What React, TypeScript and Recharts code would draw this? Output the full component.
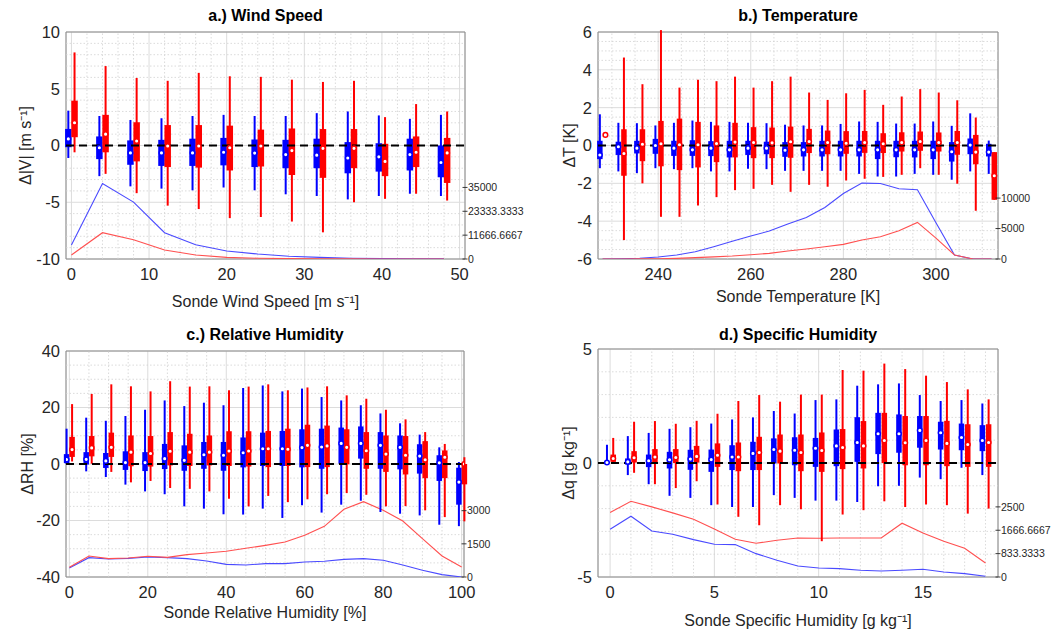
import React from 'react';
import {
  ComposedChart,
  Scatter,
  Line,
  XAxis,
  YAxis,
  CartesianGrid,
  ReferenceLine,
  ReferenceArea,
  ErrorBar,
  Label,
} from 'recharts';

const FONT = '"Liberation Sans", Arial, Helvetica, sans-serif';
const BLUE = '#0000ff';
const RED = '#ff0000';
const TXT = '#262626';

// boxes are [whisker low, q1, median, q3, whisker high]

// a.) Wind Speed
const windBins = [0, 4, 8, 12, 16, 20, 24, 28, 32, 36, 40, 44, 48];
const windBlue = [
  [-1.1, -0.15, 0.58, 1.46, 3.07],
  [-2.7, -1.2, -0.2, 0.8, 2.6],
  [-3.6, -1.7, -0.65, 0.45, 2.25],
  [-3.8, -1.8, -0.65, 0.5, 2.4],
  [-3.95, -1.8, -0.65, 0.6, 2.6],
  [-3.7, -1.75, -0.6, 0.67, 2.7],
  [-3.95, -1.9, -0.67, 0.53, 2.6],
  [-4.3, -2.0, -0.8, 0.5, 2.6],
  [-4.45, -2.0, -0.85, 0.6, 2.85],
  [-4.75, -2.45, -1.1, 0.3, 3.0],
  [-4.45, -2.3, -1.0, 0.2, 2.65],
  [-4.25, -2.2, -0.8, 0.6, 2.35],
  [-4.45, -2.8, -1.5, 0.0, 2.7],
];
const windRed = [
  [-0.6, 0.73, 2.0, 3.95, 8.2],
  [-2.5, -0.6, 1.0, 2.7, 7.0],
  [-4.2, -1.4, 0.4, 2.05, 5.95],
  [-5.3, -1.9, -0.05, 1.8, 5.7],
  [-5.6, -1.95, -0.05, 1.8, 6.4],
  [-6.4, -2.2, -0.2, 1.75, 6.1],
  [-6.3, -1.85, -0.05, 1.4, 6.05],
  [-6.7, -2.6, -0.45, 1.5, 5.8],
  [-7.65, -2.85, -0.25, 1.45, 5.6],
  [-5.0, -2.0, -0.25, 1.45, 5.7],
  [-4.7, -2.7, -1.4, 0.15, 2.5],
  [-4.25, -1.9, -0.6, 0.8, 3.65],
  [-4.85, -3.3, -0.65, 0.67, 3.0],
];
const windCountBlue = [6840, 36950, 27840, 12860, 7000, 3900, 2440, 1380, 810, 400, 190, 90, 40];
const windCountRed = [1950, 12860, 9440, 4430, 1950, 810, 350, 200, 100, 60, 30, 20, 10];
const windXTicks = [0, 10, 20, 30, 40, 50];
const windYTicks = [-10, -5, 0, 5, 10];
const windCountTicks = [0, 11666.6667, 23333.3333, 35000];
const windMinorX = [2, 4, 6, 8, 12, 14, 16, 18, 22, 24, 26, 28, 32, 34, 36, 38, 42, 44, 46, 48];
const windMinorY = [-9, -8, -7, -6, -4, -3, -2, -1, 1, 2, 3, 4, 6, 7, 8, 9];

// b.) Temperature
const tempBins = [228, 232, 236, 240, 244, 248, 252, 256, 260, 264, 268, 272, 276, 280, 284, 288, 292, 296, 300, 304, 308, 312];
const tempBlue = [
  [-1.2, -0.72, -0.5, 0.25, 1.65],
  [-1.37, -0.5, -0.07, 0.2, 1.2],
  [-1.46, -0.42, -0.14, 0.25, 1.18],
  [-1.2, -0.44, 0, 0.35, 1.06],
  [-1.25, -0.55, -0.14, 0.25, 1.2],
  [-1.2, -0.55, -0.23, 0.28, 1.32],
  [-1.37, -0.56, -0.14, 0.23, 1.25],
  [-1.37, -0.63, -0.23, 0.25, 1.25],
  [-1.23, -0.5, -0.14, 0.25, 1.2],
  [-1.25, -0.46, -0.14, 0.2, 1.18],
  [-1.34, -0.6, -0.25, 0.18, 1.1],
  [-1.34, -0.58, -0.23, 0.18, 1.06],
  [-1.34, -0.58, -0.23, 0.25, 1.06],
  [-1.34, -0.58, -0.23, 0.25, 1.14],
  [-1.5, -0.58, -0.23, 0.25, 1.27],
  [-1.64, -0.72, -0.23, 0.25, 1.25],
  [-1.64, -0.62, -0.23, 0.25, 1.16],
  [-1.5, -0.63, -0.23, 0.25, 1.16],
  [-1.55, -0.72, -0.23, 0.25, 1.27],
  [-1.81, -0.85, -0.33, 0.18, 1.04],
  [-1.37, -0.46, 0.02, 0.37, 1.7],
  [-1.5, -0.58, -0.35, 0.09, 0.26],
];
const tempRed = [
  [0.56, 0.56, 0.56, 0.56, 0.56],
  [-5.0, -1.6, -0.42, 0.86, 4.65],
  [-2.0, -0.83, 0.07, 0.86, 3.24],
  [-3.77, -1.1, 0.09, 1.3, 6.1],
  [-3.77, -1.3, 0.04, 1.42, 3.06],
  [-3.17, -1.16, 0.04, 1.25, 3.47],
  [-2.73, -0.88, 0.1, 1.06, 3.4],
  [-2.36, -0.63, 0.18, 1.2, 3.64],
  [-2.29, -0.67, 0.16, 0.97, 3.06],
  [-2.08, -0.67, 0.14, 0.95, 3.4],
  [-2.45, -0.65, 0.2, 1.0, 3.64],
  [-2.08, -0.4, 0.21, 0.88, 2.8],
  [-2.18, -0.46, 0.16, 0.79, 2.41],
  [-1.85, -0.44, 0.12, 0.76, 2.76],
  [-1.76, -0.39, 0.16, 0.77, 2.94],
  [-1.66, -0.4, 0.09, 0.65, 2.15],
  [-1.55, -0.32, 0.16, 0.7, 2.59],
  [-1.2, -0.28, 0.21, 0.74, 2.98],
  [-1.55, -0.32, 0.16, 0.69, 2.8],
  [-2.02, -0.49, 0.16, 0.77, 2.39],
  [-3.45, -0.99, -0.35, 0.56, 1.48],
  [-2.87, -2.87, -1.6, -0.35, -0.35],
];
const tempCountBlue = [0, 50, 120, 330, 650, 1200, 2020, 2900, 3770, 4590, 5740, 6830, 8470, 10760, 12460, 12400, 11530, 11370, 5960, 650, 0, 0];
const tempCountRed = [0, 0, 20, 40, 100, 220, 350, 490, 710, 930, 1310, 1640, 2020, 2400, 3110, 3660, 4640, 6010, 3440, 660, 0, 0];
const tempXTicks = [240, 260, 280, 300];
const tempYTicks = [-6, -4, -2, 0, 2, 4, 6];
const tempCountTicks = [0, 5000, 10000];
const tempMinorX = [230, 235, 245, 250, 255, 265, 270, 275, 285, 290, 295, 305, 310];
const tempMinorY = [-5.5, -5, -4.5, -3.5, -3, -2.5, -1.5, -1, -0.5, 0.5, 1, 1.5, 2.5, 3, 3.5, 4.5, 5, 5.5];

// c.) Relative Humidity
const rhBins = [0, 5, 10, 15, 20, 25, 30, 35, 40, 45, 50, 55, 60, 65, 70, 75, 80, 85, 90, 95, 100];
const rhBlue = [
  [0, 0.3, 1.6, 3.5, 12.5],
  [-2.6, -0.2, 1.65, 4.2, 16.4],
  [-4.6, -1.4, 1.1, 3.9, 15.3],
  [-7.3, -2.1, 0.5, 4.5, 17.0],
  [-9.7, -2.5, 0.5, 4.2, 19.2],
  [-10.7, -1.8, 1.9, 7.1, 22.5],
  [-15.0, -2.4, 1.3, 6.6, 20.5],
  [-15.8, -1.7, 3.3, 7.8, 21.7],
  [-17.8, -2.4, 3.1, 7.8, 20.8],
  [-17.9, -1.2, 4.0, 9.4, 26.9],
  [-15.8, -0.7, 5.4, 11.1, 27.8],
  [-19.1, -0.7, 5.4, 11.7, 25.7],
  [-14.6, -1.2, 5.8, 12.3, 26.7],
  [-17.2, -1.7, 6.0, 12.5, 23.7],
  [-14.4, 0.1, 7.3, 12.9, 22.5],
  [-13.0, 1.9, 7.3, 13.3, 20.8],
  [-17.0, -1.7, 6.6, 11.3, 17.9],
  [-17.6, -1.9, 5.9, 10.1, 14.4],
  [-18.2, -3.4, 2.8, 7.0, 10.4],
  [-21.5, -6.0, 0.4, 3.1, 5.9],
  [-22.0, -14.4, -6.4, -1.3, 0.7],
];
const rhRed = [
  [0.9, 2.5, 5.1, 9.6, 21.2],
  [0.1, 2.7, 5.7, 9.9, 24.8],
  [-2.8, 2.5, 5.9, 11.1, 28.2],
  [-6.5, -0.8, 4.2, 10.1, 27.5],
  [-6.0, -0.9, 3.7, 9.9, 25.7],
  [-8.5, -0.5, 4.5, 11.3, 29.3],
  [-8.8, -0.7, 4.2, 10.7, 27.4],
  [-9.7, -0.5, 4.2, 10.1, 27.5],
  [-12.3, -0.7, 4.6, 11.6, 26.1],
  [-15.0, -0.9, 4.6, 11.6, 27.4],
  [-11.3, -1.1, 5.4, 11.7, 28.2],
  [-13.5, -0.7, 5.2, 12.5, 26.1],
  [-12.5, -1.1, 6.6, 13.9, 27.1],
  [-10.7, -1.1, 6.4, 13.6, 27.5],
  [-10.3, -0.1, 5.9, 12.3, 24.3],
  [-10.9, -1.7, 4.7, 11.3, 23.1],
  [-15.0, -2.8, 3.5, 10.1, 19.2],
  [-14.9, -3.7, 3.1, 9.9, 15.8],
  [-16.4, -5.0, 1.5, 8.1, 11.3],
  [-18.8, -5.0, 2.4, 4.8, 7.1],
  [-20.3, -7.2, 0, 0, 2.4],
];
const rhCountBlue = [407, 874, 814, 844, 905, 874, 829, 724, 573, 543, 603, 603, 678, 709, 799, 829, 754, 543, 302, 106, 0];
const rhCountRed = [437, 950, 829, 859, 935, 889, 1010, 1085, 1161, 1297, 1432, 1583, 1884, 2291, 3060, 3407, 3015, 2533, 1734, 950, 452];
const rhXTicks = [0, 20, 40, 60, 80, 100];
const rhYTicks = [-40, -20, 0, 20, 40];
const rhCountTicks = [0, 1500, 3000];
const rhMinorX = [5, 10, 15, 25, 30, 35, 45, 50, 55, 65, 70, 75, 85, 90, 95];
const rhMinorY = [-35, -30, -25, -15, -10, -5, 5, 10, 15, 25, 30, 35];

// d.) Specific Humidity
const qBins = [0, 1, 2, 3, 4, 5, 6, 7, 8, 9, 10, 11, 12, 13, 14, 15, 16, 17, 18];
const qBlue = [
  [0, 0, 0.02, 0.05, 0.8],
  [-0.53, -0.07, 0.05, 0.2, 1.18],
  [-0.93, -0.18, 0.1, 0.37, 1.32],
  [-1.44, -0.24, 0.14, 0.49, 1.5],
  [-1.53, -0.3, 0.17, 0.58, 1.57],
  [-1.85, -0.39, 0.15, 0.59, 1.73],
  [-1.93, -0.31, 0.26, 0.78, 1.91],
  [-1.93, -0.31, 0.42, 0.93, 2.0],
  [-1.41, -0.02, 0.59, 1.08, 2.28],
  [-1.53, -0.1, 0.56, 1.13, 2.17],
  [-1.65, -0.17, 0.65, 1.1, 2.76],
  [-1.65, -0.14, 0.75, 1.47, 2.79],
  [-1.71, 0.05, 0.9, 2.01, 3.39],
  [-1.02, 0.39, 1.28, 2.2, 3.45],
  [-1.0, 0.45, 1.28, 2.13, 3.49],
  [-0.64, 0.67, 1.43, 2.06, 2.98],
  [-0.71, 0.59, 1.33, 1.81, 2.72],
  [-0.21, 0.56, 1.12, 1.73, 2.76],
  [-0.53, 0.52, 0.99, 1.66, 2.61],
];
const qRed = [
  [0.02, 0.05, 0.2, 0.37, 1.1],
  [-0.43, 0.02, 0.23, 0.52, 1.81],
  [-0.93, 0.02, 0.26, 0.61, 1.84],
  [-1.1, 0, 0.24, 0.61, 1.72],
  [-0.8, 0.02, 0.29, 0.75, 1.85],
  [-1.82, -0.17, 0.34, 0.86, 2.16],
  [-2.36, -0.36, 0.26, 0.9, 2.72],
  [-2.73, -0.31, 0.46, 1.15, 2.98],
  [-1.85, -0.02, 0.52, 1.25, 2.69],
  [-2.03, -0.36, 0.46, 1.25, 3.0],
  [-3.43, -0.39, 0.55, 1.34, 3.0],
  [-2.26, -0.27, 0.68, 1.49, 4.08],
  [-2.07, -0.24, 0.75, 1.84, 4.05],
  [-1.68, 0, 0.99, 2.2, 4.36],
  [-1.93, -0.1, 0.89, 2.06, 4.12],
  [-1.82, -0.1, 0.99, 2.06, 3.83],
  [-1.85, -0.14, 0.86, 1.85, 3.55],
  [-2.22, -0.17, 0.81, 1.7, 3.23],
  [-2.0, -0.17, 0.9, 1.7, 2.79],
];
const qCountBlue = [1702, 2167, 1643, 1524, 1333, 1167, 1155, 833, 595, 393, 321, 298, 238, 214, 238, 274, 179, 119, 24];
const qCountRed = [2298, 2702, 2500, 2286, 2060, 1714, 1345, 1202, 1310, 1393, 1381, 1393, 1393, 1393, 1917, 1571, 1274, 1024, 500];
const qXTicks = [0, 5, 10, 15];
const qYTicks = [-5, 0, 5];
const qCountTicks = [0, 833.3333, 1666.6667, 2500];
const qMinorX = [1, 2, 3, 4, 6, 7, 8, 9, 11, 12, 13, 14, 16, 17, 18];
const qMinorY = [-4, -3, -2, -1, 1, 2, 3, 4];

function boxPoints(bins: number[], boxes: number[][], shift: number) {
  return bins.map((b, i) => {
    const [lo, q1, med, q3, hi] = boxes[i];
    return { x: b + shift, med, whisker: [med - lo, hi - med], box: [med - q1, q3 - med] };
  });
}

function countPoints(bins: number[], counts: number[]) {
  return bins.map((b, i) => ({ x: b, n: counts[i] }));
}

function CountTick(props: any) {
  const { x, y, payload } = props;
  return (
    <g>
      <line x1={x - 2.5} x2={x + 2.5} y1={y} y2={y} stroke={TXT} strokeWidth={0.9} />
      <text x={x + 3} y={y} dy="0.35em" fontSize={10.5} fill={TXT} fontFamily={FONT}>
        {String(payload.value)}
      </text>
    </g>
  );
}

const medianShape = (color: string) => (p: any) =>
  <circle cx={p.cx} cy={p.cy} r={2.3} fill="#fff" stroke={color} strokeWidth={1.5} />;

interface PanelProps {
  title: string;
  xLabel: string;
  yLabel: string;
  bins: number[];
  blue: number[][];
  red: number[][];
  countBlue: number[];
  countRed: number[];
  xDomain: [number, number];
  yDomain: [number, number];
  countDomain: [number, number];
  xTicks: number[];
  yTicks: number[];
  countTicks: number[];
  minorX: number[];
  minorY: number[];
  shift: number;
  boxWidth: number;
  left: number;
  top: number;
  height: number;
  margin: { top: number; right: number; bottom: number; left: number };
  leftWidth: number;
  rightWidth: number;
  yLabelOffset: number;
  xLabelOffset: number;
  titleTop: number;
}

function Panel(p: PanelProps) {
  const blue = boxPoints(p.bins, p.blue, -p.shift);
  const red = boxPoints(p.bins, p.red, p.shift);
  const cBlue = countPoints(p.bins, p.countBlue);
  const cRed = countPoints(p.bins, p.countRed);
  const plotLeft = p.margin.left + p.leftWidth;
  const plotWidth = 528 - p.margin.right - p.rightWidth - plotLeft;
  const tickStyle = { fontSize: 16.5, fill: TXT, fontFamily: FONT };

  return (
    <div style={{ position: 'absolute', left: p.left, top: p.top, width: 528, height: p.height }}>
      <div
        style={{
          position: 'absolute',
          left: plotLeft,
          width: plotWidth,
          top: p.titleTop,
          height: 18,
          lineHeight: '18px',
          textAlign: 'center',
          fontWeight: 'bold',
          fontSize: 16,
          fontFamily: FONT,
          color: '#000',
        }}
      >
        {p.title}
      </div>
      <ComposedChart width={528} height={p.height} margin={p.margin}>
        <CartesianGrid yAxisId="left" stroke="#dcdcdc" strokeWidth={1} />
        {p.minorX.map((v) => (
          <ReferenceLine key={'mx' + v} x={v} yAxisId="left" stroke="#d2d2d2" strokeDasharray="1.5 2" strokeWidth={0.8} />
        ))}
        {p.minorY.map((v) => (
          <ReferenceLine key={'my' + v} y={v} yAxisId="left" stroke="#d2d2d2" strokeDasharray="1.5 2" strokeWidth={0.8} />
        ))}
        <XAxis
          type="number"
          dataKey="x"
          domain={p.xDomain}
          ticks={p.xTicks}
          interval={0}
          allowDataOverflow
          axisLine={false}
          tickLine={false}
          tickSize={0}
          tickMargin={9}
          height={50}
          tick={tickStyle}
        >
          <Label
            value={p.xLabel}
            position="insideBottom"
            offset={p.xLabelOffset}
            fontSize={16}
            fill={TXT}
            fontFamily={FONT}
          />
        </XAxis>
        <YAxis
          yAxisId="left"
          type="number"
          domain={p.yDomain}
          ticks={p.yTicks}
          interval={0}
          allowDataOverflow
          axisLine={false}
          tickLine={false}
          tickSize={0}
          tickMargin={6}
          width={p.leftWidth}
          tick={tickStyle}
        >
          <Label
            value={p.yLabel}
            angle={-90}
            position="insideLeft"
            offset={p.yLabelOffset}
            fontSize={16}
            fill={TXT}
            fontFamily={FONT}
            style={{ textAnchor: 'middle' }}
          />
        </YAxis>
        <YAxis
          yAxisId="right"
          orientation="right"
          type="number"
          domain={p.countDomain}
          ticks={p.countTicks}
          interval={0}
          allowDataOverflow
          axisLine={false}
          tickLine={false}
          tickSize={0}
          tickMargin={0}
          width={p.rightWidth}
          tick={(tp: any) => <CountTick {...tp} />}
        />
        <Line
          data={cBlue}
          dataKey="n"
          yAxisId="right"
          stroke="#4a4aff"
          strokeWidth={1.1}
          dot={false}
          isAnimationActive={false}
        />
        <Line
          data={cRed}
          dataKey="n"
          yAxisId="right"
          stroke="#ff5050"
          strokeWidth={1.1}
          dot={false}
          isAnimationActive={false}
        />
        <Scatter data={blue} dataKey="med" yAxisId="left" shape={medianShape(BLUE)} isAnimationActive={false}>
          <ErrorBar dataKey="whisker" direction="y" width={0} stroke={BLUE} strokeWidth={2} isAnimationActive={false} />
          <ErrorBar dataKey="box" direction="y" width={0} stroke={BLUE} strokeWidth={p.boxWidth} isAnimationActive={false} />
        </Scatter>
        <Scatter data={red} dataKey="med" yAxisId="left" shape={medianShape(RED)} isAnimationActive={false}>
          <ErrorBar dataKey="whisker" direction="y" width={0} stroke={RED} strokeWidth={2} isAnimationActive={false} />
          <ErrorBar dataKey="box" direction="y" width={0} stroke={RED} strokeWidth={p.boxWidth} isAnimationActive={false} />
        </Scatter>
        <ReferenceLine y={0} yAxisId="left" stroke="#000" strokeWidth={2} strokeDasharray="8 5" />
        <ReferenceArea
          x1={p.xDomain[0]}
          x2={p.xDomain[1]}
          y1={p.yDomain[0]}
          y2={p.yDomain[1]}
          yAxisId="left"
          fill="none"
          fillOpacity={0}
          stroke="#8a8a8a"
          strokeWidth={1}
        />
      </ComposedChart>
    </div>
  );
}

export default function App() {
  return (
    <div style={{ position: 'absolute', left: 0, top: 0, width: 1056, height: 631, background: '#fff', overflow: 'hidden' }}>
      <Panel
        title="a.) Wind Speed"
        xLabel="Sonde Wind Speed [m s⁻¹]"
        yLabel="Δ|V| [m s⁻¹]"
        bins={windBins}
        blue={windBlue}
        red={windRed}
        countBlue={windCountBlue}
        countRed={windCountRed}
        xDomain={[-0.7, 50.7]}
        yDomain={[-10, 10]}
        countDomain={[0, 111000]}
        xTicks={windXTicks}
        yTicks={windYTicks}
        countTicks={windCountTicks}
        minorX={windMinorX}
        minorY={windMinorY}
        shift={0.4}
        boxWidth={6.5}
        left={0}
        top={0}
        height={315}
        margin={{ top: 32, right: 8, bottom: 6, left: 6 }}
        leftWidth={60}
        rightWidth={55}
        yLabelOffset={19}
        xLabelOffset={2.5}
        titleTop={7}
      />
      <Panel
        title="b.) Temperature"
        xLabel="Sonde Temperature [K]"
        yLabel="ΔT [K]"
        bins={tempBins}
        blue={tempBlue}
        red={tempRed}
        countBlue={tempCountBlue}
        countRed={tempCountRed}
        xDomain={[227, 313.4]}
        yDomain={[-6, 6]}
        countDomain={[0, 37270]}
        xTicks={tempXTicks}
        yTicks={tempYTicks}
        countTicks={tempCountTicks}
        minorX={tempMinorX}
        minorY={tempMinorY}
        shift={0.6}
        boxWidth={5.5}
        left={528}
        top={0}
        height={315}
        margin={{ top: 32, right: 8, bottom: 6, left: 6 }}
        leftWidth={64}
        rightWidth={50}
        yLabelOffset={35}
        xLabelOffset={7.5}
        titleTop={7}
      />
      <Panel
        title="c.) Relative Humidity"
        xLabel="Sonde Relative Humidity [%]"
        yLabel="ΔRH [%]"
        bins={rhBins}
        blue={rhBlue}
        red={rhRed}
        countBlue={rhCountBlue}
        countRed={rhCountRed}
        xDomain={[-0.85, 100.6]}
        yDomain={[-40, 40]}
        countDomain={[0, 10220]}
        xTicks={rhXTicks}
        yTicks={rhYTicks}
        countTicks={rhCountTicks}
        minorX={rhMinorX}
        minorY={rhMinorY}
        shift={0.7}
        boxWidth={5.5}
        left={0}
        top={315}
        height={316}
        margin={{ top: 36, right: 8, bottom: 4, left: 6 }}
        leftWidth={60}
        rightWidth={56}
        yLabelOffset={21}
        xLabelOffset={9.5}
        titleTop={11}
      />
      <Panel
        title="d.) Specific Humidity"
        xLabel="Sonde Specific Humidity [g kg⁻¹]"
        yLabel="Δq [g kg⁻¹]"
        bins={qBins}
        blue={qBlue}
        red={qRed}
        countBlue={qCountBlue}
        countRed={qCountRed}
        xDomain={[-0.58, 18.6]}
        yDomain={[-5, 5]}
        countDomain={[0, 8130]}
        xTicks={qXTicks}
        yTicks={qYTicks}
        countTicks={qCountTicks}
        minorX={qMinorX}
        minorY={qMinorY}
        shift={0.15}
        boxWidth={5.5}
        left={528}
        top={315}
        height={316}
        margin={{ top: 34, right: 8, bottom: 4, left: 6 }}
        leftWidth={64}
        rightWidth={50}
        yLabelOffset={34}
        xLabelOffset={1}
        titleTop={11}
      />
    </div>
  );
}
